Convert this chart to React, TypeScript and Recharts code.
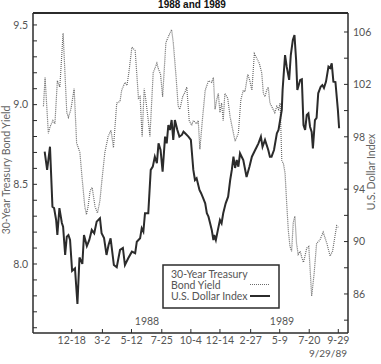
import React from "react";
import { LineChart, Line, XAxis, YAxis } from "recharts";

// days counted from 1 Oct 1987
const xTickDays = [78, 153, 224, 298, 369, 440, 515, 586, 658, 729];
const xTickLabels = ["12-18", "3-2", "5-12", "7-25", "10-4", "12-14", "2-27", "5-9", "7-20", "9-29"];

const yieldTicks = [7.6, 7.7, 7.8, 7.9, 8.0, 8.1, 8.2, 8.3, 8.4, 8.5, 8.6, 8.7, 8.8, 8.9, 9.0, 9.1, 9.2, 9.3, 9.4, 9.5];
const dollarTicks = [84, 86, 88, 90, 92, 94, 96, 98, 100, 102, 104, 106];

// 30-year Treasury bond yield (dotted)
const yieldDays = [
  9, 13, 21, 25, 32, 37, 43, 49, 57, 66, 70, 76, 84, 90, 98, 103, 110, 114, 118, 123,
  128, 135, 141, 147, 152, 159, 167, 174, 180, 188, 196, 200, 208, 213, 218, 225, 233, 241, 245, 250,
  255, 259, 265, 269, 277, 286, 289, 295, 300, 308, 313, 318, 322, 326, 333, 338, 342, 349, 355, 359,
  365, 371, 375, 383, 387, 391, 397, 404, 412, 420, 424, 428, 432, 436, 440, 444, 448, 452, 459, 465,
  473, 477, 485, 491, 497, 501, 508, 513, 518, 524, 528, 536, 542, 546, 550, 554, 558, 562, 566, 570,
  574, 579, 583, 587, 591, 595, 599, 603, 607, 611, 615, 619, 623, 627, 631, 636, 640, 644, 652, 657,
  664, 670, 676, 684, 692, 701, 709, 715, 725, 729
];
const yieldValues = [
  8.99, 9.17, 8.82, 8.86, 8.9, 8.88, 9.15, 9.11, 9.45, 8.95, 8.92, 8.97, 9.1, 8.76, 8.7, 8.55, 8.36, 8.31, 8.36, 8.46,
  8.48, 8.36, 8.32, 8.4, 8.53, 8.7, 8.8, 8.84, 8.73, 9.01, 9.02, 9.09, 9.14, 9.12, 9.21, 9.36, 9.34, 9.04, 9.05, 8.8,
  9.1, 9.03, 8.9, 8.8, 9.2, 9.26, 9.23, 9.19, 9.05, 9.39, 9.42, 9.45, 9.47, 9.39, 9.17, 8.99, 8.97, 9.05, 9.08, 9.11,
  8.9, 8.87, 8.9, 8.88, 8.9, 8.72, 8.9, 9.09, 9.15, 9.14, 9.17, 8.97, 9.03, 9.07, 8.95, 9.01, 8.9, 9.07, 9.04, 8.92,
  8.82, 8.77, 8.82, 9.03, 9.09, 9.08, 9.19, 9.15, 9.09, 9.32, 9.3, 9.26, 9.2, 9.07, 9.05, 9.09, 9.11, 9.01, 8.99, 8.97,
  8.95, 8.99, 8.97, 9.01, 8.65, 8.63, 8.57, 8.38, 8.21, 8.11, 8.08, 8.26, 8.3, 8.13, 8.06, 8.08, 8.04, 8.01, 8.1, 8.11,
  7.8, 7.94, 8.13, 8.15, 8.2, 8.13, 8.05, 8.08, 8.24, 8.23
];

// U.S. dollar index (solid)
const dollarDays = [
  12, 18, 25, 31, 35, 40, 43, 48, 54, 57, 62, 66, 70, 74, 79, 86, 92, 97, 104, 108,
  115, 121, 127, 133, 139, 147, 151, 157, 163, 168, 173, 181, 188, 196, 203, 208, 216, 225, 233, 237,
  245, 249, 253, 257, 265, 271, 276, 281, 286, 290, 295, 300, 306, 310, 314, 318, 322, 326, 330, 336,
  341, 347, 351, 355, 363, 369, 375, 379, 383, 390, 394, 399, 404, 408, 412, 416, 420, 424, 426, 430,
  435, 440, 444, 448, 454, 460, 465, 469, 473, 477, 481, 485, 489, 493, 497, 505, 512, 518, 526, 530,
  534, 540, 544, 550, 558, 562, 566, 572, 579, 583, 587, 591, 593, 599, 603, 609, 613, 618, 622, 626,
  629, 636, 640, 644, 648, 652, 656, 660, 664, 667, 672, 676, 680, 686, 690, 694, 699, 705, 709, 713,
  717, 722, 728, 731
];
const dollarValues = [
  96.86, 95.47, 97.24, 92.66, 92.56, 91.65, 90.5, 92.56, 91.42, 91.14, 88.98, 90.37, 90.5, 90.12, 87.76, 87.96, 85.24, 88.79, 88.29, 90.5,
  89.66, 90.12, 90.89, 90.63, 91.52, 91.78, 90.63, 90.27, 88.98, 89.74, 90.25, 88.21, 88.04, 89.36, 89.51, 88.21, 88.73, 89.23, 89.11, 89.99,
  90.25, 91.02, 90.76, 92.16, 92.16, 95.47, 95.72, 96.48, 95.98, 97.5, 96.99, 95.34, 98.01, 97.5, 98.9, 98.52, 99.28, 97.76, 99.28, 98.52,
  98.01, 98.14, 98.39, 98.27, 98.01, 97.76, 95.47, 94.7, 94.83, 93.94, 93.69, 93.31, 92.92, 92.16, 91.9, 91.4, 90.89, 90.12, 90.5, 90.12,
  90.89, 91.65, 91.4, 92.16, 92.92, 93.43, 94.7, 95.47, 96.48, 95.62, 96.23, 95.72, 96.74, 96.48, 96.23, 94.93, 95.72, 96.48, 96.99, 97.24,
  97.5, 98.01, 97.24, 97.76, 96.99, 96.48, 96.48, 96.99, 98.27, 98.52, 99.28, 100.05, 101.57, 104.24, 103.35, 102.34, 104.24, 105.39, 105.77, 103.86,
  101.57, 102.34, 102.39, 98.9, 98.52, 99.66, 99.79, 98.77, 98.37, 97.12, 99.28, 99.44, 101.32, 101.82, 101.95, 101.73, 102.21, 103.35, 103.25, 103.61,
  102.21, 102.18, 100.05, 98.65
];

const yieldData = yieldDays.map((day, i) => ({ day, value: yieldValues[i] }));
const dollarData = dollarDays.map((day, i) => ({ day, value: dollarValues[i] }));

const FONT = "Lato, 'Open Sans', sans-serif";
const INK = "#2b2b2b";
const TEXT = "#555";

export default function App() {
  const tickStyle = { fontSize: 10.5, fill: TEXT, fontFamily: FONT };
  return (
    <div style={{ position: "absolute", left: 0, top: 0, width: 381, height: 364, background: "#fff" }}>
      <LineChart width={381} height={364} margin={{ top: 13, right: 0, bottom: 0, left: 0 }}>
        <XAxis
          dataKey="day"
          type="number"
          domain={[-16.5, 752.7]}
          allowDataOverflow
          ticks={xTickDays}
          interval={0}
          tickFormatter={(v) => xTickLabels[xTickDays.indexOf(v)] ?? ""}
          height={31}
          tickSize={-4}
          tickMargin={8}
          axisLine={{ stroke: INK, strokeWidth: 1.5 }}
          tickLine={{ stroke: INK }}
          tick={tickStyle}
        />
        <YAxis
          yAxisId="left"
          type="number"
          domain={[7.567, 9.575]}
          allowDataOverflow
          ticks={yieldTicks}
          interval={0}
          tickFormatter={(v) => (v >= 8 && Math.abs(v * 2 - Math.round(v * 2)) < 1e-6 ? v.toFixed(1) : "")}
          width={33}
          tickSize={-4}
          tickMargin={9}
          axisLine={{ stroke: INK, strokeWidth: 1.5 }}
          tickLine={{ stroke: INK }}
          tick={tickStyle}
        />
        <YAxis
          yAxisId="right"
          orientation="right"
          type="number"
          domain={[83.02, 107.45]}
          allowDataOverflow
          ticks={dollarTicks}
          interval={0}
          tickFormatter={(v) => (v % 4 === 2 ? String(v) : "")}
          width={33}
          tickSize={-4}
          tickMargin={9}
          axisLine={{ stroke: INK, strokeWidth: 1.5 }}
          tickLine={{ stroke: INK }}
          tick={tickStyle}
        />
        <Line
          yAxisId="left"
          data={yieldData}
          dataKey="value"
          type="linear"
          stroke="#6a6a6a"
          strokeWidth={1.2}
          strokeDasharray="1 1"
          dot={false}
          isAnimationActive={false}
        />
        <Line
          yAxisId="right"
          data={dollarData}
          dataKey="value"
          type="linear"
          stroke={INK}
          strokeWidth={2}
          dot={false}
          isAnimationActive={false}
        />
      </LineChart>
      <svg
        width={381}
        height={364}
        style={{ position: "absolute", left: 0, top: 0, pointerEvents: "none" }}
        fontFamily={FONT}
      >
        <text x={192} y={8} textAnchor="middle" fontSize={10} fontWeight="bold" fontFamily="'Liberation Sans', Arial, sans-serif" fill="#111">
          1988 and 1989
        </text>
        <line x1={33} x2={348} y1={13} y2={13} stroke={INK} strokeWidth={2} />
        <text transform="translate(10,170) rotate(-90)" textAnchor="middle" fontSize={10.5} fill="#666">
          30-Year Treasury Bond Yield
        </text>
        <text transform="translate(375,172) rotate(-90)" textAnchor="middle" fontSize={10.5} fill="#666">
          U.S. Dollar Index
        </text>
        <text x={147} y={325} textAnchor="middle" fontSize={10.5} fill={TEXT}>1988</text>
        <text x={282} y={325} textAnchor="middle" fontSize={10.5} fill={TEXT}>1989</text>
        <text x={347} y={357} textAnchor="end" fontSize={10} fill={TEXT}>9/29/89</text>
        <rect x={163} y={265} width={116} height={43} fill="#fff" stroke={INK} strokeWidth={1.5} />
        <text x={171} y={278} fontSize={10.5} fill={TEXT}>30-Year Treasury</text>
        <text x={171} y={289} fontSize={10.5} fill={TEXT}>Bond Yield</text>
        <text x={171} y={300} fontSize={10.5} fill={TEXT}>U.S. Dollar Index</text>
        <line x1={250} x2={270} y1={284.5} y2={284.5} stroke="#6a6a6a" strokeWidth={1.2} strokeDasharray="1 1" />
        <line x1={250} x2={270} y1={296} y2={296} stroke={INK} strokeWidth={2} />
      </svg>
    </div>
  );
}
